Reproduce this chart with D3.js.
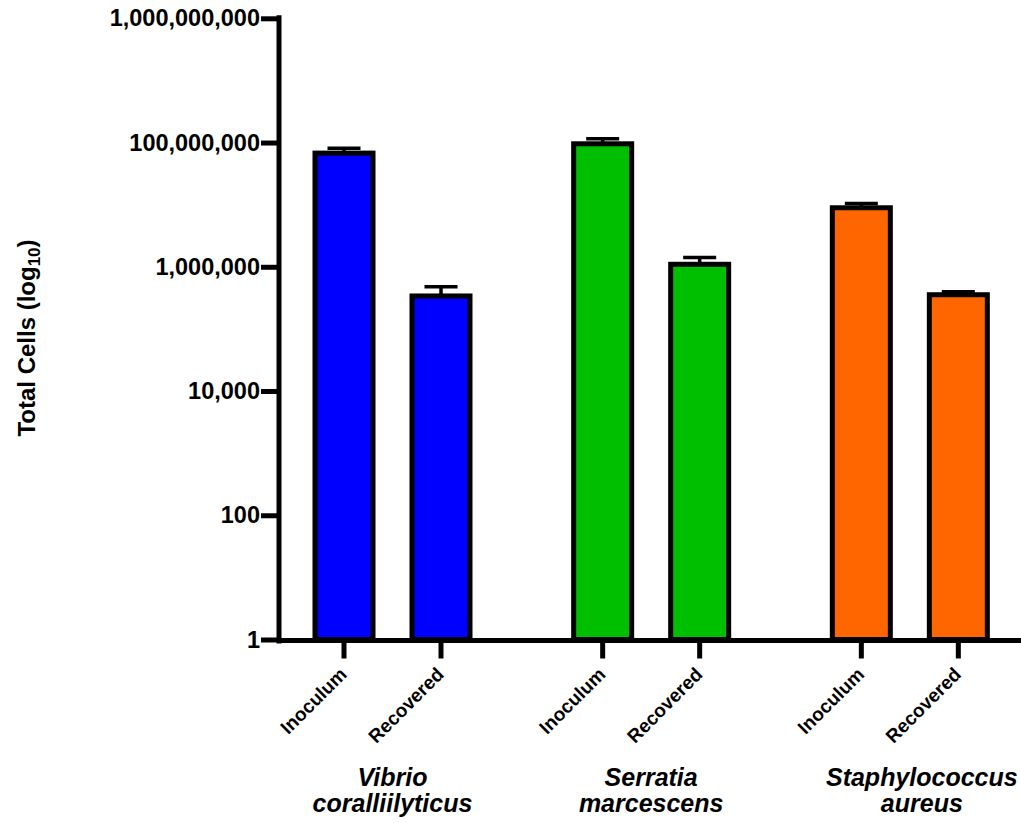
<!DOCTYPE html>
<html>
<head>
<meta charset="utf-8">
<script src="https://cdn.jsdelivr.net/npm/d3@7"></script>
<style>
  html, body { margin: 0; padding: 0; background: #fff; }
  svg { display: block; }
  text { font-family: "Liberation Sans", Arial, sans-serif; fill: #000; }
</style>
</head>
<body>
<svg id="chart" width="1021" height="823"></svg>
<script>
// Strains and sample types
const species = [["Vibrio", "coralliilyticus"], ["Serratia", "marcescens"], ["Staphylococcus", "aureus"]];
const samples = ["Inoculum", "Recovered"];
const colors = ["#0000FF", "#00BE00", "#FF6600"];

// log10 total cells (mean) and upper error, per strain: [Inoculum, Recovered]
const vibrioMean = [7.83, 5.53];
const vibrioErr = [0.08, 0.15];
const serratiaMean = [7.98, 6.04];
const serratiaErr = [0.08, 0.11];
const staphMean = [6.95, 5.55];
const staphErr = [0.07, 0.05];

// Y axis ticks (log10 positions) and their printed labels
const yTickValues = [0, 2, 4, 6, 8, 10];
const yTickLabels = ["1", "100", "10,000", "1,000,000", "100,000,000", "1,000,000,000"];

const means = [vibrioMean, serratiaMean, staphMean];
const errs = [vibrioErr, serratiaErr, staphErr];

const rows = [];
species.forEach((sp, g) => {
  samples.forEach((s, j) => {
    rows.push({ group: g, sample: s, slot: g * (2 + 2 / 3) + j, mean: means[g][j], err: errs[g][j], color: colors[g] });
  });
});

const svg = d3.select("#chart");

// Scales
const x = d3.scaleLinear().domain([0, 1]).range([344, 441]);
const y = d3.scaleLinear().domain([0, 10]).range([639.5, 18.3]);
const axisX = 279;
const barW = 58;

// Bars
svg.append("g").selectAll("rect").data(rows).join("rect")
  .attr("x", d => x(d.slot) - barW / 2)
  .attr("y", d => y(d.mean))
  .attr("width", barW)
  .attr("height", d => y(0) - y(d.mean))
  .attr("fill", d => d.color)
  .attr("stroke", "#000")
  .attr("stroke-width", 5);

// Error bars (upper only)
const eb = svg.append("g").attr("stroke", "#000").attr("stroke-width", 3.5);
eb.selectAll("line.stem").data(rows).join("line")
  .attr("class", "stem")
  .attr("x1", d => x(d.slot)).attr("x2", d => x(d.slot))
  .attr("y1", d => y(d.mean)).attr("y2", d => y(d.mean + d.err));
eb.selectAll("line.cap").data(rows).join("line")
  .attr("class", "cap")
  .attr("x1", d => x(d.slot) - 16.5).attr("x2", d => x(d.slot) + 16.5)
  .attr("y1", d => y(d.mean + d.err)).attr("y2", d => y(d.mean + d.err));

// Y axis
const yAxis = d3.axisLeft(y)
  .tickValues(yTickValues)
  .tickFormat((d, i) => yTickLabels[i])
  .tickSize(18)
  .tickPadding(1);
const gy = svg.append("g").attr("transform", `translate(${axisX},0)`).call(yAxis);
gy.select(".domain").remove();
gy.selectAll(".tick line").attr("stroke", "#000").attr("stroke-width", 5);
gy.selectAll(".tick text")
  .attr("font-size", 23.5).attr("font-weight", "bold")
  .attr("font-family", "'Liberation Sans', Arial, sans-serif");
gy.append("line")
  .attr("x1", 0).attr("x2", 0)
  .attr("y1", y(10) - 3).attr("y2", y(0) + 4)
  .attr("stroke", "#000").attr("stroke-width", 5);

// X axis
svg.append("line")
  .attr("x1", axisX).attr("x2", 1021)
  .attr("y1", y(0) + 1).attr("y2", y(0) + 1)
  .attr("stroke", "#000").attr("stroke-width", 5);

const gx = svg.append("g");
gx.selectAll("line").data(rows).join("line")
  .attr("x1", d => x(d.slot)).attr("x2", d => x(d.slot))
  .attr("y1", y(0) + 1).attr("y2", y(0) + 19)
  .attr("stroke", "#000").attr("stroke-width", 5);
gx.selectAll("text").data(rows).join("text")
  .attr("transform", d => `translate(${x(d.slot) + 4},${y(0) + 36}) rotate(-45)`)
  .attr("text-anchor", "end")
  .attr("font-size", 19).attr("font-weight", "bold")
  .text(d => d.sample);

// Strain names
const labelShift = [0, 0, 12];
const sl = svg.append("g");
species.forEach((sp, g) => {
  const cx = (x(g * (2 + 2 / 3)) + x(g * (2 + 2 / 3) + 1)) / 2 + labelShift[g];
  const t = sl.append("text")
    .attr("text-anchor", "middle")
    .attr("font-size", 25).attr("font-weight", "bold").attr("font-style", "italic");
  t.append("tspan").attr("x", cx).attr("y", 786).text(sp[0]);
  t.append("tspan").attr("x", cx).attr("y", 812).text(sp[1]);
});

// Y axis title
const yt = svg.append("text")
  .attr("transform", "translate(35,338) rotate(-90)")
  .attr("text-anchor", "middle")
  .attr("font-size", 24).attr("font-weight", "bold");
yt.append("tspan").text("Total Cells (log");
yt.append("tspan").attr("font-size", 17).attr("dy", 5).text("10");
yt.append("tspan").attr("dy", -5).text(")");
</script>
</body>
</html>
